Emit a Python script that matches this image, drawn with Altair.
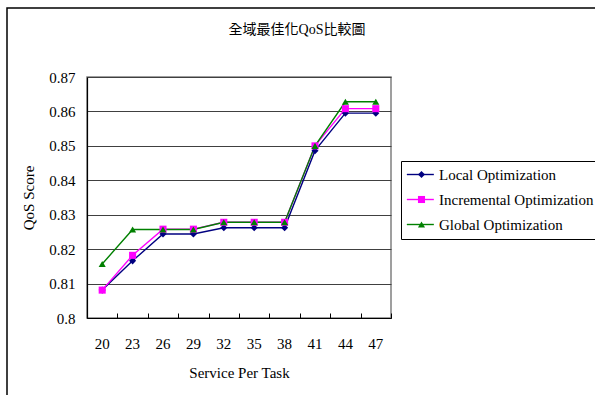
import altair as alt
import pandas as pd

services = ["20", "23", "26", "29", "32", "35", "38", "41", "44", "47"]
local_opt = [0.8081, 0.8166, 0.8244, 0.8244, 0.8262, 0.8262, 0.8262, 0.8486, 0.8595, 0.8595]
incremental_opt = [0.8081, 0.8182, 0.8258, 0.8258, 0.8278, 0.8278, 0.8278, 0.8500, 0.8608, 0.8608]
global_opt = [0.8157, 0.8257, 0.8257, 0.8257, 0.8278, 0.8278, 0.8278, 0.8500, 0.8628, 0.8628]
series_names = ["Local Optimization", "Incremental Optimization", "Global Optimization"]
colors = ["#000080", "#FF00FF", "#008000"]
shapes = ["diamond", "square", "triangle-up"]
y_ticks = [0.80, 0.81, 0.82, 0.83, 0.84, 0.85, 0.86, 0.87]

rows = []
for name, vals in zip(series_names, [local_opt, incremental_opt, global_opt]):
    for s, v in zip(services, vals):
        rows.append({"service": s, "value": v, "series": name, "s2": name})
df = pd.DataFrame(rows)

FONT = "Liberation Serif"
TITLE_FONT = "Liberation Serif, Noto Sans CJK TC"

xscale = alt.Scale(type="band", paddingInner=0, paddingOuter=0)
yscale = alt.Scale(domain=[0.80, 0.87], nice=False, zero=False)

common_legend = dict(
    orient="none", legendY=84, title=None,
    labelFont=FONT, labelFontSize=15, labelColor="#000",
    padding=6, rowPadding=9,
)

y_axis = alt.Axis(values=y_ticks, format=".2~f", title="QoS Score",
                  grid=True, gridColor="#404040", gridWidth=1,
                  domainColor="#000", domainWidth=1.2, ticks=False,
                  labelPadding=12, labelFont=FONT, labelFontSize=15,
                  labelColor="#000", titleFont=FONT, titleFontSize=15,
                  titleFontWeight="normal", titleColor="#000", titlePadding=12)

lines = alt.Chart(df).mark_line(strokeWidth=1.4).encode(
    x=alt.X("service:O", sort=services, scale=xscale, bandPosition=0.5,
            axis=alt.Axis(title="Service Per Task", labelAngle=0, ticks=False,
                          domainColor="#000", domainWidth=1.2, labelPadding=18,
                          labelFont=FONT, labelFontSize=15, labelColor="#000",
                          titleFont=FONT, titleFontSize=15, titleFontWeight="normal",
                          titleColor="#000", titlePadding=14)),
    y=alt.Y("value:Q", scale=yscale, axis=y_axis),
    color=alt.Color("series:N", scale=alt.Scale(domain=series_names, range=colors),
                    sort=series_names,
                    legend=alt.Legend(symbolType="M-1.7,0H4.3", symbolSize=81,
                                      symbolStrokeWidth=1.4, strokeColor="#000",
                                      legendX=314, labelOffset=17,
                                      **common_legend)),
    order=alt.Order("series:N"),
)

marker_legend = alt.Legend(symbolSize=50, labelExpr="' '", legendX=321, **common_legend)

points = alt.Chart(df).mark_point(filled=True, size=50, opacity=1).encode(
    x=alt.X("service:O", sort=services, scale=xscale, bandPosition=0.5,
            axis=alt.Axis(title=None, labels=False, domain=False, grid=False,
                          ticks=True, tickSize=5, tickColor="#000", tickWidth=1,
                          tickBand="extent", offset=-5, orient="bottom")),
    y=alt.Y("value:Q", scale=yscale, axis=y_axis),
    color=alt.Color("s2:N", scale=alt.Scale(domain=series_names, range=colors),
                    legend=marker_legend),
    shape=alt.Shape("s2:N", scale=alt.Scale(domain=series_names, range=shapes),
                    legend=marker_legend),
)

frame = alt.Chart(pd.DataFrame({"a": [0]})).mark_rect(
    fill=None, stroke="#000", strokeWidth=1.5
).encode(x=alt.value(-80), x2=alt.value(530), y=alt.value(-69), y2=alt.value(340))

chart = alt.layer(frame, lines, points).resolve_scale(
    color="independent", shape="independent"
).resolve_axis(x="independent").properties(
    width=304, height=241,
    title=alt.Title("全域最佳化QoS比較圖", font=TITLE_FONT, fontSize=14,
                    fontWeight="normal", color="#000", dx=58, offset=-30),
    autosize=alt.AutoSizeParams(type="none"),
    padding={"left": 87, "top": 77, "right": 204, "bottom": 77},
).configure_view(stroke="#808080", strokeWidth=1.5)

chart.save("out.html", embed_options={"renderer": "svg", "actions": False})
